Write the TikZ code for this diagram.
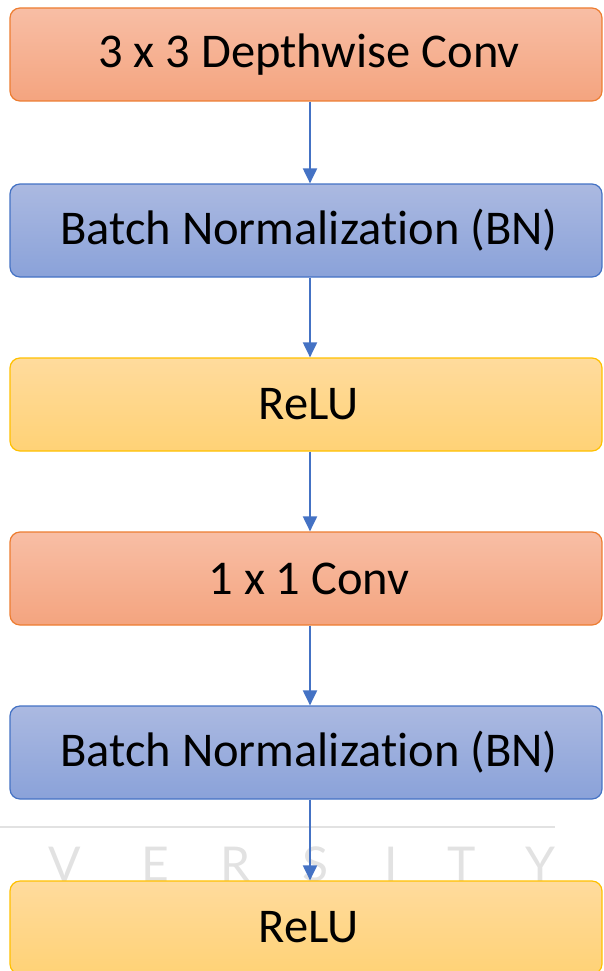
\documentclass[tikz,border=0pt]{standalone}
\usepackage{fontspec}
\setmainfont{Carlito}[Ligatures={NoCommon,NoContextual}]
\newfontfamily\wmfont{Lato}
\usetikzlibrary{arrows.meta}
\definecolor{orTop}{HTML}{F8BEA5}
\definecolor{orBot}{HTML}{F4A47F}
\definecolor{orLine}{HTML}{ED7D31}
\definecolor{blTop}{HTML}{ABB9E1}
\definecolor{blBot}{HTML}{8AA2D9}
\definecolor{blLine}{HTML}{4472C4}
\definecolor{ylTop}{HTML}{FFDB9D}
\definecolor{ylBot}{HTML}{FFD276}
\definecolor{ylLine}{HTML}{FFC000}
\definecolor{arrowc}{HTML}{4472C4}
\definecolor{wm}{HTML}{E2E2E2}
\tikzset{
  box/.style={rectangle, rounded corners=10pt, minimum width=592pt, minimum height=93pt,
    line width=1.2pt, font=\fontsize{48.5}{52}\selectfont, inner sep=0pt},
  orbox/.style={box, draw=orLine, top color=orTop, bottom color=orBot},
  blbox/.style={box, draw=blLine, top color=blTop, bottom color=blBot},
  ylbox/.style={box, draw=ylLine, top color=ylTop, bottom color=ylBot},
  conn/.style={draw=arrowc, line width=2pt, -{Triangle[width=14pt,length=15pt]}},
  wmletter/.style={text=wm, font=\wmfont\fontsize{48}{50}\selectfont, inner sep=0pt, anchor=base}
}
\begin{document}
\begin{tikzpicture}[x=1pt,y=-1pt]
\useasboundingbox (0,0) rectangle (603,971);
% watermark
\draw[wm, line width=1.5pt] (0,827) -- (555,827);
\foreach \l/\x in {V/65, E/155, R/236, S/316, I/391, T/462, Y/540}{
  \node[wmletter] at (\x,881) {\l};
}
% boxes
\node[orbox] (b1) at (306,54.5) {\hspace*{6pt}3 x 3 Depthwise Conv};
\node[blbox] (b2) at (306,230.5) {\hspace*{6pt}Batch Normalization (BN)};
\node[ylbox] (b3) at (306,404.5) {\hspace*{6pt}ReLU};
\node[orbox] (b4) at (306,578.5) {\hspace*{6pt}1 x 1 Conv};
\node[blbox] (b5) at (306,752.5) {\hspace*{6pt}Batch Normalization (BN)};
\node[ylbox] (b6) at (306,927.5) {\hspace*{6pt}ReLU};
% connectors
\foreach \a/\b in {b1/b2, b2/b3, b3/b4, b4/b5, b5/b6}{
  \draw[conn] ([xshift=4pt]\a.south) -- ([xshift=4pt]\b.north);
}
\end{tikzpicture}
\end{document}
